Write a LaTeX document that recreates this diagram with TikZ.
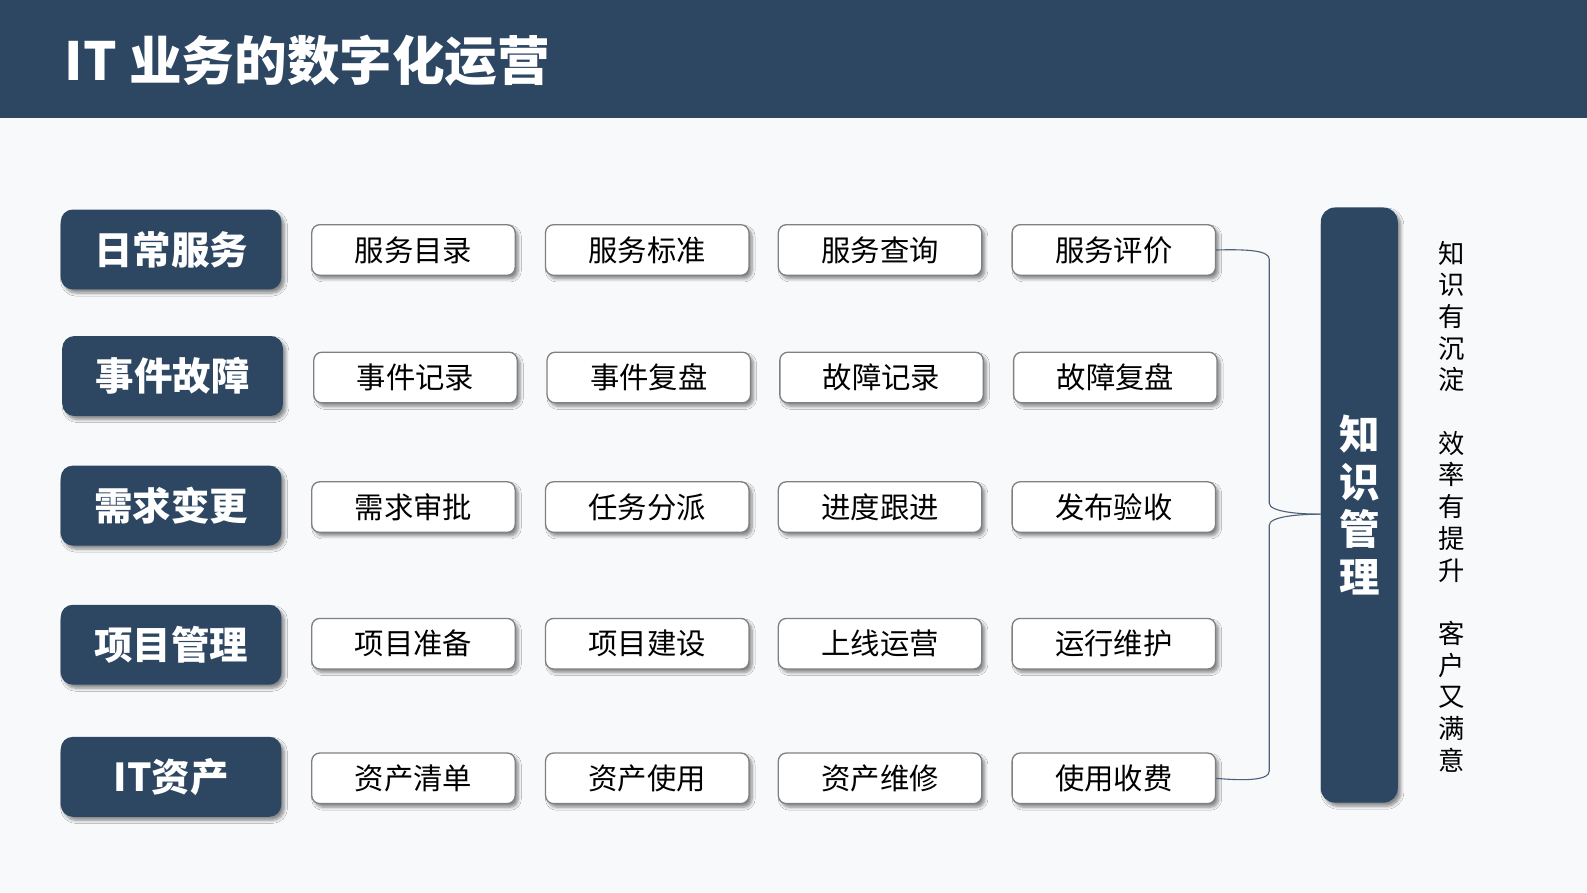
\documentclass[tikz,border=0pt]{standalone}
\usepackage{fontspec}
\setmainfont{Noto Sans CJK SC}
\usetikzlibrary{shadows,shadows.blur}
\definecolor{navy}{RGB}{45,70,98}
\definecolor{bg}{RGB}{248,249,251}
\definecolor{lineblue}{RGB}{80,98,122}
\tikzset{
  shad/.style={blur shadow={shadow xshift=3pt,shadow yshift=-3.5pt,shadow blur radius=3pt,shadow blur steps=6,shadow opacity=45}},
  catbox/.style={shad,fill=navy,rounded corners=12pt,minimum width=218pt,minimum height=79pt,
    text=white,font=\fontsize{38}{40}\selectfont\bfseries,inner sep=0pt},
  itembox/.style={shad,fill=white,draw=black!50,line width=1.3pt,rounded corners=8pt,
    minimum width=201pt,minimum height=50pt,text=black,font=\fontsize{29}{31}\selectfont,inner sep=0pt},
  kmbox/.style={shad,fill=navy,rounded corners=14pt,minimum width=76pt,minimum height=588pt,inner sep=0pt},
  brace/.style={draw=lineblue,line width=1.1pt}
}
\begin{document}
\begin{tikzpicture}[x=1pt,y=-1pt]
\useasboundingbox (0,0) rectangle (1568,881.4);
\fill[bg] (0,0) rectangle (1568,881.4);
\fill[navy] (0,0) rectangle (1568,117);
\node[anchor=west,text=white,font=\fontsize{52}{56}\selectfont\bfseries,inner sep=0pt] (title) at (64,60) {IT 业务的数字化运营};

% category boxes
\node[catbox] (c1) at (169,246.5) {日常服务};
\node[catbox] (c2) at (170.5,371.5) {事件故障};
\node[catbox] (c3) at (169,499.5) {需求变更};
\node[catbox] (c4) at (169,637) {项目管理};
\node[catbox] (c5) at (169,767.5) {IT资产};

% item boxes
\node[itembox] (p11) at (408.5,247) {服务目录};
\node[itembox] (p12) at (639.5,247) {服务标准};
\node[itembox] (p13) at (869.5,247) {服务查询};
\node[itembox] (p14) at (1100.5,247) {服务评价};

\node[itembox] (p21) at (410.5,373) {事件记录};
\node[itembox] (p22) at (641,373) {事件复盘};
\node[itembox] (p23) at (871,373) {故障记录};
\node[itembox] (p24) at (1102,373) {故障复盘};

\node[itembox] (p31) at (408.5,501) {需求审批};
\node[itembox] (p32) at (639.5,501) {任务分派};
\node[itembox] (p33) at (869.5,501) {进度跟进};
\node[itembox] (p34) at (1100.5,501) {发布验收};

\node[itembox] (p41) at (408.5,636) {项目准备};
\node[itembox] (p42) at (639.5,636) {项目建设};
\node[itembox] (p43) at (869.5,636) {上线运营};
\node[itembox] (p44) at (1100.5,636) {运行维护};

\node[itembox] (p51) at (408.5,769) {资产清单};
\node[itembox] (p52) at (639.5,769) {资产使用};
\node[itembox] (p53) at (869.5,769) {资产维修};
\node[itembox] (p54) at (1100.5,769) {使用收费};

% knowledge management box
\node[kmbox] (km) at (1343,499) {};
\node[text=white,font=\fontsize{40}{47}\selectfont\bfseries,align=center,inner sep=0pt] (kmt) at (1343,499) {知\\识\\管\\理};

% brace
\coordinate (j) at ([yshift=-9pt]km.west);
\draw[brace] (p14.east) .. controls (1235,246) and (1254,248) .. (1254,256) -- (1254,497)
  .. controls (1254,506) and (1285,508) .. (j);
\draw[brace] (j) .. controls (1285,508) and (1254,510) .. (1254,519) -- (1254,762)
  .. controls (1254,770) and (1235,772) .. (p54.east);

% right vertical text
\node[text=black,font=\fontsize{26}{31.3}\selectfont,align=center,inner sep=0pt,anchor=north] (rt) at (1434,238)
  {知\\识\\有\\沉\\淀\\[31.3pt]效\\率\\有\\提\\升\\[31.3pt]客\\户\\又\\满\\意};
\end{tikzpicture}
\end{document}
